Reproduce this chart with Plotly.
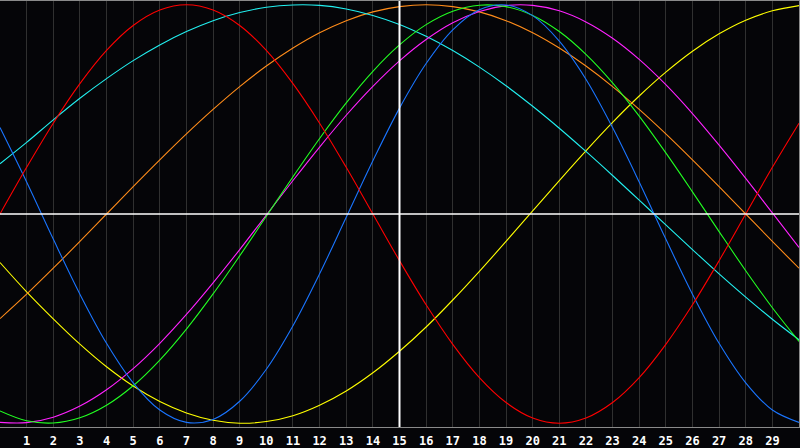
import plotly.graph_objects as go

# days shown on the x axis (0..30), labels only for 1..29
days = list(range(31))
tick_days = list(range(1, 30))
tick_labels = [str(d) for d in tick_days]

# curve values, one per day
red = [0.0, 0.223, 0.434, 0.623, 0.782, 0.901, 0.975, 1.0, 0.975, 0.901,
       0.782, 0.623, 0.434, 0.223, 0.0, -0.223, -0.434, -0.623, -0.782, -0.901,
       -0.975, -1.0, -0.975, -0.901, -0.782, -0.623, -0.434, -0.223, 0.0, 0.223,
       0.434]
blue = [0.413, 0.153, -0.120, -0.383, -0.618, -0.807, -0.937, -0.996, -0.982, -0.895,
        -0.742, -0.534, -0.286, -0.016, 0.254, 0.506, 0.719, 0.880, 0.976, 0.999,
        0.948, 0.826, 0.644, 0.413, 0.153, -0.120, -0.383, -0.618, -0.807, -0.937,
        -0.996]
green = [-0.941, -0.988, -0.999, -0.974, -0.914, -0.821, -0.698, -0.550, -0.382, -0.200,
         -0.011, 0.178, 0.361, 0.531, 0.682, 0.808, 0.905, 0.969, 0.998, 0.991,
         0.949, 0.872, 0.763, 0.627, 0.468, 0.292, 0.106, -0.084, -0.271, -0.448,
         -0.609]
magenta = [-0.996, -0.997, -0.971, -0.918, -0.840, -0.739, -0.618, -0.480, -0.329, -0.170,
           -0.005, 0.160, 0.320, 0.472, 0.610, 0.732, 0.834, 0.914, 0.968, 0.996,
           0.997, 0.971, 0.918, 0.840, 0.739, 0.618, 0.480, 0.329, 0.170, 0.005,
           -0.160]
orange = [-0.5, -0.383, -0.259, -0.131, 0.0, 0.131, 0.259, 0.383, 0.5, 0.609,
          0.707, 0.793, 0.866, 0.924, 0.966, 0.991, 1.0, 0.991, 0.966, 0.924,
          0.866, 0.793, 0.707, 0.609, 0.5, 0.383, 0.259, 0.131, 0.0, -0.131,
          -0.259]
yellow = [-0.232, -0.372, -0.501, -0.622, -0.730, -0.822, -0.896, -0.951, -0.986, -1.0,
          -0.992, -0.964, -0.914, -0.846, -0.759, -0.656, -0.540, -0.411, -0.274, -0.131,
          0.015, 0.160, 0.302, 0.438, 0.564, 0.678, 0.778, 0.861, 0.926, 0.971,
          0.996]
cyan = [0.24, 0.342, 0.450, 0.553, 0.647, 0.733, 0.808, 0.872, 0.924, 0.963,
        0.988, 0.999, 0.997, 0.980, 0.949, 0.906, 0.849, 0.781, 0.702, 0.613,
        0.515, 0.410, 0.299, 0.184, 0.066, -0.052, -0.170, -0.286, -0.397, -0.503,
        -0.601]

series = [
    (yellow, "#ffff00"),
    (orange, "#ff8c1a"),
    (cyan, "#22f0f0"),
    (magenta, "#ff22ff"),
    (green, "#22ff22"),
    (blue, "#1a75ff"),
    (red, "#ff0000"),
]

fig = go.Figure()
for values, color in series:
    fig.add_trace(go.Scatter(
        x=days, y=values, mode="lines",
        line=dict(color=color, width=1.1, shape="spline", smoothing=1),
        showlegend=False, hoverinfo="skip",
    ))

# white centre cross: today and the zero line
fig.add_shape(type="line", xref="x", yref="paper", x0=15, x1=15, y0=0, y1=1,
              line=dict(color="white", width=2), layer="above")
fig.add_shape(type="line", xref="paper", yref="y", x0=0, x1=1, y0=0, y1=0,
              line=dict(color="white", width=1.5), layer="above")

fig.update_layout(
    width=800, height=448,
    margin=dict(l=0, r=0, t=0, b=20),
    paper_bgcolor="#050508",
    plot_bgcolor="#050508",
)
fig.update_xaxes(
    range=[0, 30], tickvals=tick_days, ticktext=tick_labels,
    showgrid=True, gridcolor="#303030", gridwidth=1,
    zeroline=False, showline=True, linecolor="#8a8a8a", linewidth=1, mirror=True,
    ticks="outside", ticklen=3, tickcolor="#050508",
    tickfont=dict(family="DejaVu Sans Mono", size=12, color="white", weight="bold"),
)
fig.update_yaxes(
    range=[-1.018, 1.018], showgrid=False, zeroline=False, showticklabels=False,
    showline=True, linecolor="#8a8a8a", linewidth=1, mirror=True,
)

# drop the browser's default page margin so the chart fills the window
fig.write_html("out.html", config={"displayModeBar": False},
               post_script="document.body.style.margin='0';")
